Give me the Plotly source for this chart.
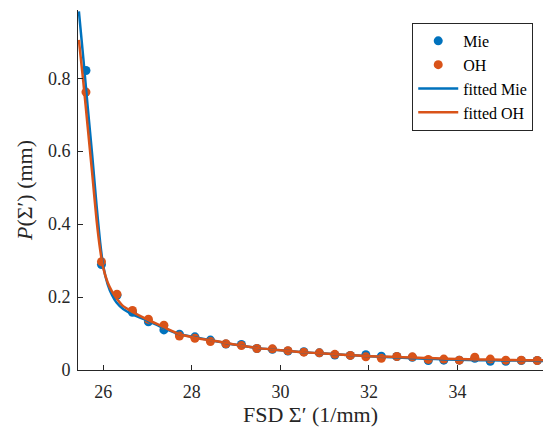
import plotly.graph_objects as go

# --- data ---
fsd = [25.61, 25.96, 26.31, 26.66, 27.02, 27.37, 27.72, 28.07, 28.42, 28.77,
       29.12, 29.47, 29.82, 30.17, 30.53, 30.88, 31.23, 31.58, 31.93, 32.28,
       32.63, 32.98, 33.34, 33.69, 34.04, 34.39, 34.74, 35.09, 35.44, 35.80]
mie = [0.821, 0.289, 0.205, 0.158, 0.132, 0.110, 0.098, 0.091, 0.082, 0.071,
       0.070, 0.059, 0.057, 0.052, 0.050, 0.047, 0.041, 0.040, 0.042, 0.038,
       0.037, 0.035, 0.026, 0.027, 0.027, 0.032, 0.024, 0.024, 0.026, 0.026]
oh = [0.762, 0.297, 0.208, 0.163, 0.139, 0.123, 0.093, 0.087, 0.078, 0.072,
      0.067, 0.059, 0.058, 0.053, 0.049, 0.047, 0.043, 0.040, 0.036, 0.032,
      0.037, 0.036, 0.029, 0.030, 0.027, 0.035, 0.030, 0.027, 0.027, 0.026]

fit_x = [25.45, 25.55, 25.65, 25.75, 25.85, 25.93, 26.0, 26.1, 26.2, 26.3,
         26.45, 26.65, 27.0, 27.36, 27.73, 28.1, 28.5, 29.0, 29.5, 30.0,
         30.5, 31.0, 31.5, 32.0, 32.5, 33.0, 33.5, 34.0, 34.5, 35.0, 35.5, 35.93]
fit_mie = [0.983, 0.855, 0.72, 0.59, 0.45, 0.35, 0.285, 0.235, 0.205, 0.185,
           0.167, 0.153, 0.135, 0.115, 0.098, 0.089, 0.080, 0.069, 0.060, 0.054,
           0.049, 0.045, 0.041, 0.038, 0.035, 0.032, 0.030, 0.028, 0.027, 0.026, 0.026, 0.025]
fit_oh = [0.905, 0.79, 0.665, 0.54, 0.41, 0.33, 0.28, 0.24, 0.215, 0.197,
          0.175, 0.160, 0.138, 0.118, 0.098, 0.088, 0.080, 0.069, 0.060, 0.054,
          0.049, 0.045, 0.041, 0.038, 0.036, 0.034, 0.032, 0.030, 0.029, 0.028, 0.027, 0.027]

x_ticks = [26, 28, 30, 32, 34]
y_ticks = [0, 0.2, 0.4, 0.6, 0.8]

BLUE = "#0072BD"
ORANGE = "#D95319"
AX = "#262626"
FONT = "Liberation Serif"

fig = go.Figure()
fig.add_trace(go.Scatter(x=fsd, y=mie, mode="markers", name="Mie",
                         marker=dict(color=BLUE, size=9)))
fig.add_trace(go.Scatter(x=fsd, y=oh, mode="markers", name="OH",
                         marker=dict(color=ORANGE, size=9)))
fig.add_trace(go.Scatter(x=fit_x, y=fit_mie, mode="lines", name="fitted Mie",
                         line=dict(color=BLUE, width=2.5, shape="spline", smoothing=0.6)))
fig.add_trace(go.Scatter(x=fit_x, y=fit_oh, mode="lines", name="fitted OH",
                         line=dict(color=ORANGE, width=2.5, shape="spline", smoothing=0.6)))

fig.update_layout(
    width=544, height=429,
    margin=dict(l=78, r=1, t=10, b=59, autoexpand=False),
    paper_bgcolor="white", plot_bgcolor="white",
    font=dict(family=FONT, size=18, color=AX),
    showlegend=True,
    legend=dict(x=0.979, y=0.964, xanchor="right", yanchor="top",
                bgcolor="white", bordercolor=AX, borderwidth=1,
                font=dict(family=FONT, size=16, color="black"),
                tracegroupgap=0, itemwidth=40),
    xaxis=dict(range=[25.43, 35.93], tickvals=x_ticks, ticks="inside", ticklen=5,
               tickcolor=AX, showline=True, linecolor=AX, linewidth=1,
               showgrid=False, zeroline=False, mirror=False, automargin=False,
               ticklabelstandoff=5,
               tickfont=dict(family=FONT, size=18, color=AX),
               title=dict(text="FSD Σ′ (1/mm)", font=dict(family=FONT, size=22, color=AX),
                          standoff=4)),
    yaxis=dict(range=[0, 0.987], tickvals=y_ticks, ticks="inside", ticklen=5,
               tickcolor=AX, showline=True, linecolor=AX, linewidth=1,
               showgrid=False, zeroline=False, mirror=False, automargin=False,
               ticklabelstandoff=3,
               tickfont=dict(family=FONT, size=18, color=AX),
               title=dict(text="<i>P</i>(Σ′) (mm)", font=dict(family=FONT, size=22, color=AX),
                          standoff=9)),
)

fig.write_html(
    "out.html",
    config={"displayModeBar": False},
    post_script="document.body.style.margin='0';document.body.style.overflow='hidden';",
)
